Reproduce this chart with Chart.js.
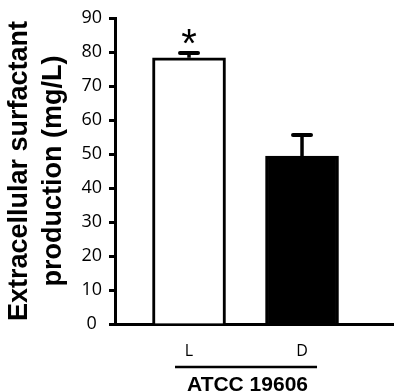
<!DOCTYPE html>
<html>
<head>
<meta charset="utf-8">
<script src="https://cdn.jsdelivr.net/npm/chart.js@4/dist/chart.umd.min.js"></script>
<style>
  html, body { margin: 0; padding: 0; background: #ffffff; }
  #wrap { width: 394px; height: 391px; }
</style>
</head>
<body>
<div id="wrap"><canvas id="c" width="394" height="391"></canvas></div>
<script>
// ---- data ----
const categories = ['L', 'D'];
const means = [78.3, 49.4];
const errors = [1.4, 6.2];
const significance = ['*', ''];
const groupLabel = 'ATCC 19606';
const yTitleLines = ['Extracellular surfactant', 'production (mg/L)'];
const yMin = 0, yMax = 90, yStep = 10;

const barFill = ['#ffffff', '#000000'];

const positions = categories.map((_, i) => i + 1);

const annotate = {
  id: 'annotate',
  afterDatasetsDraw(chart) {
    const ctx = chart.ctx;
    const meta = chart.getDatasetMeta(0);
    const y = chart.scales.y;
    const x = chart.scales.x;
    ctx.save();
    ctx.strokeStyle = '#000';
    ctx.fillStyle = '#000';
    meta.data.forEach((bar, i) => {
      const cx = bar.x;
      const top = y.getPixelForValue(means[i]);
      const capY = y.getPixelForValue(means[i] + errors[i]);
      // stem
      ctx.lineWidth = 3.5;
      ctx.lineCap = 'butt';
      ctx.beginPath();
      ctx.moveTo(cx, top);
      ctx.lineTo(cx, capY);
      ctx.stroke();
      // cap
      ctx.lineWidth = 4;
      ctx.lineCap = 'round';
      ctx.beginPath();
      ctx.moveTo(cx - 9, capY);
      ctx.lineTo(cx + 9, capY);
      ctx.stroke();
      // significance mark
      if (significance[i]) {
        ctx.font = '40px "Liberation Sans", Arial, sans-serif';
        ctx.textAlign = 'center';
        ctx.textBaseline = 'alphabetic';
        ctx.fillText(significance[i], cx, capY + 4);
      }
    });
    // group bracket line under the category labels + group label
    const x1 = x.getPixelForValue(positions[0]) - 14;
    const x2 = x.getPixelForValue(positions[positions.length - 1]) + 15;
    ctx.lineWidth = 2.5;
    ctx.lineCap = 'butt';
    ctx.beginPath();
    ctx.moveTo(x1, 367);
    ctx.lineTo(x2, 367);
    ctx.stroke();
    ctx.font = 'bold 21px "Liberation Sans", Arial, sans-serif';
    ctx.textAlign = 'center';
    ctx.textBaseline = 'alphabetic';
    ctx.fillText(groupLabel, (x1 + x2) / 2 + 1.5, 391);
    ctx.restore();
  }
};

new Chart(document.getElementById('c'), {
  type: 'bar',
  data: {
    datasets: [{
      data: positions.map((p, i) => ({ x: p, y: means[i] })),
      backgroundColor: barFill,
      borderColor: '#000000',
      borderWidth: 3,
      borderSkipped: 'start',
      barThickness: 73
    }]
  },
  options: {
    responsive: false,
    animation: false,
    devicePixelRatio: 1,
    layout: { padding: { top: 18, right: 0, bottom: 0, left: 0 } },
    plugins: { legend: { display: false }, tooltip: { enabled: false } },
    scales: {
      x: {
        type: 'linear',
        offset: false,
        min: 0.345,
        max: 2.814,
        afterBuildTicks(scale) { scale.ticks = positions.map(v => ({ value: v })); },
        afterFit(scale) { scale.height = 67; },
        grid: { display: false, drawTicks: false },
        border: { display: true, color: '#000000', width: 3 },
        ticks: {
          padding: 18,
          color: '#000000',
          font: { family: '"Open Sans", sans-serif', size: 16 },
          callback: (v) => categories[Math.round(v) - 1] ?? ''
        }
      },
      y: {
        min: yMin,
        max: yMax,
        afterFit(scale) { scale.width = 115; },
        grid: { display: true, drawOnChartArea: false, drawTicks: true, tickLength: 6, tickWidth: 3, tickColor: '#000000', color: '#000000' },
        border: { display: true, color: '#000000', width: 3 },
        ticks: {
          stepSize: yStep,
          padding: 7,
          crossAlign: 'center',
          color: '#000000',
          font: { family: '"Open Sans", sans-serif', size: 18 }
        },
        title: {
          display: true,
          text: yTitleLines,
          color: '#000000',
          font: { family: '"Liberation Sans", Arial, sans-serif', size: 27, weight: 'bold', lineHeight: 1.26 },
          padding: { top: 3, bottom: 0 }
        }
      }
    }
  },
  plugins: [annotate]
});
</script>
</body>
</html>
